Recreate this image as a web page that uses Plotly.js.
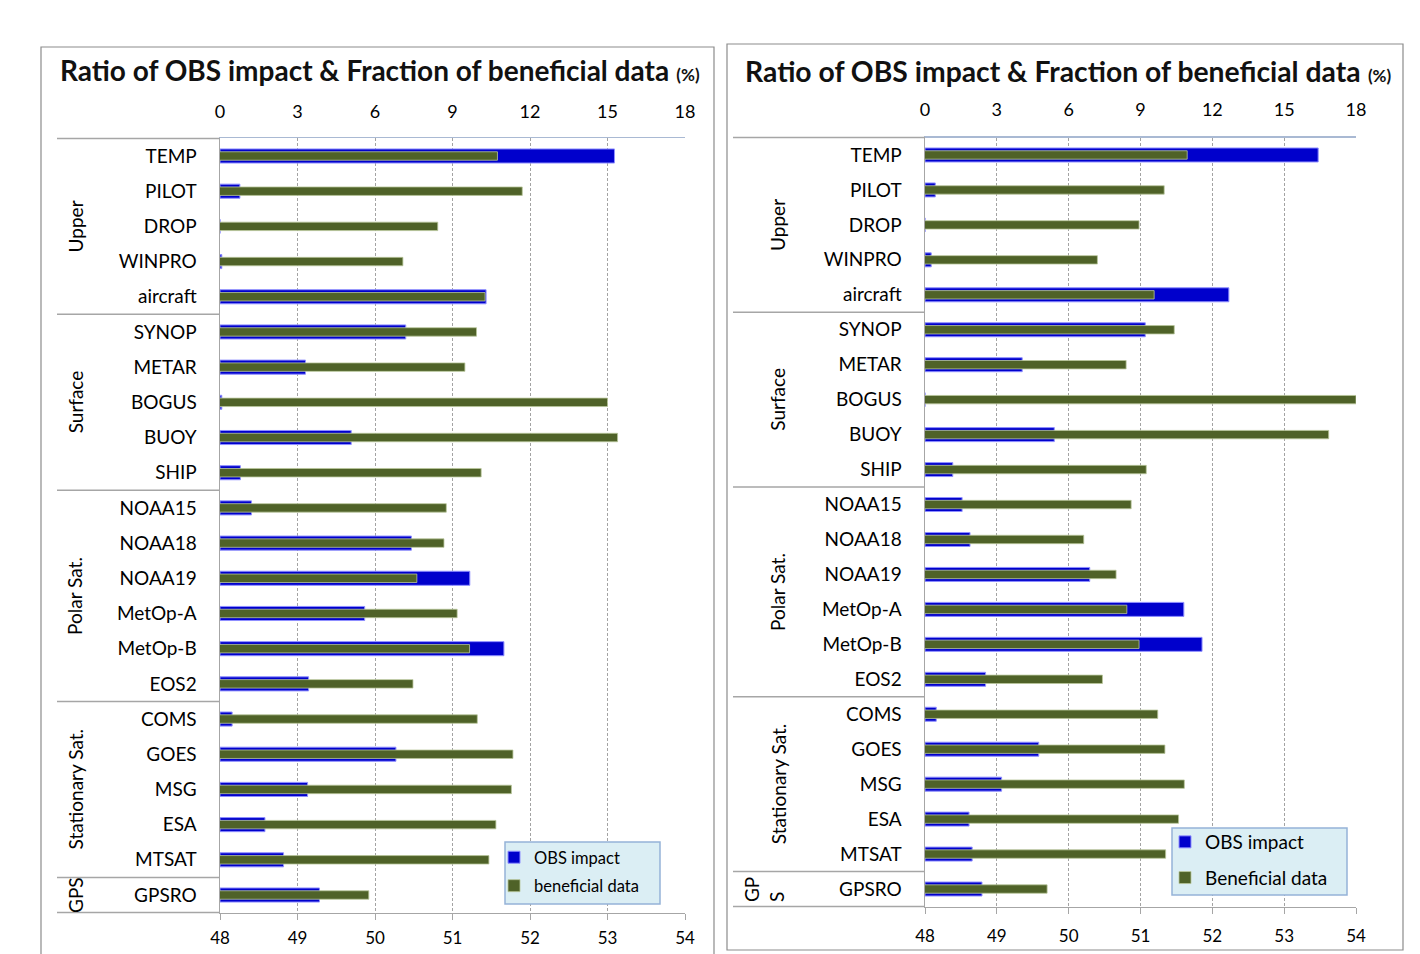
<!DOCTYPE html>
<html>
<head>
<meta charset="utf-8">
<script src="https://cdn.plot.ly/plotly-3.0.1.min.js"></script>
<style>html,body{margin:0;padding:0;background:#fff;}#chart{width:1420px;height:954px;}</style>
</head>
<body>
<div id="chart"></div>
<script>
const categories = ['TEMP','PILOT','DROP','WINPRO','aircraft','SYNOP','METAR','BOGUS','BUOY','SHIP','NOAA15','NOAA18','NOAA19','MetOp-A','MetOp-B','EOS2','COMS','GOES','MSG','ESA','MTSAT','GPSRO'];
const groupNames = ['Upper','Surface','Polar Sat.','Stationary Sat.','GPS'];
const groupSizes = [5,5,6,5,1];

const leftObsImpact = [15.27,0.77,0,0.07,10.30,7.19,3.31,0.07,5.08,0.79,1.22,7.41,9.67,5.60,10.99,3.43,0.47,6.81,3.39,1.74,2.46,3.85];
const leftBeneficial = [51.58,51.90,50.81,50.36,51.42,51.31,51.16,53.00,53.13,51.37,50.92,50.89,50.54,51.06,51.22,50.49,51.32,51.78,51.76,51.56,51.47,49.92];
const rightObsImpact = [16.42,0.43,0,0.26,12.69,9.20,4.06,0,5.40,1.16,1.55,1.88,6.88,10.81,11.57,2.53,0.47,4.75,3.20,1.84,1.97,2.38];
const rightBeneficial = [51.65,51.33,50.98,50.40,51.19,51.47,50.80,54.0,53.62,51.08,50.87,50.21,50.66,50.81,50.98,50.47,51.24,51.34,51.61,51.53,51.35,49.70];

const topTicks = [0,3,6,9,12,15,18];
const bottomTicks = [48,49,50,51,52,53,54];

const W = 1420, H = 954;
const px = v => v / W;
const py = v => 1 - v / H;
const FONT = 'Lato, "Open Sans", sans-serif';
const BLUE = '#0000CC', GREEN = '#4F6228';

const panels = [
  {xa:'x', xb:'x2', ya:'y', obs:leftObsImpact, ben:leftBeneficial, benName:'beneficial data', legend:'legend',
   L:220, R:685, T:138.4, B:912.6, lineL:57, box:[41,47,714,970], titleX:58, titleY:70, groupX:75, titleSize:28,
   legBox:[505,842,660,904], legendX:494, legendY:840, legendFont:16.5, legendGap:4,
   topStand:12, botStand:3, gpsBreak:false},
  {xa:'x3', xb:'x4', ya:'y2', obs:rightObsImpact, ben:rightBeneficial, benName:'Beneficial data', legend:'legend2',
   L:925, R:1356, T:137.5, B:906.5, lineL:733, box:[727,44,1403,950], titleX:743, titleY:71, groupX:778, titleSize:28.3,
   legBox:[1172,828,1347,895], legendX:1165, legendY:823, legendFont:19, legendGap:8,
   topStand:13, botStand:8, gpsBreak:true}
];

let data = [];
panels.forEach((p, i) => {
  data.push({type:'bar', orientation:'h', y:categories, x:p.obs, xaxis:p.xa, yaxis:p.ya, width:0.40,
    name:'OBS impact', legend:p.legend, legendgroup:'obs' + i,
    marker:{color:BLUE, line:{color:'#8f8fff', width:1}}});
  data.push({type:'bar', orientation:'h', y:categories, x:p.ben, xaxis:p.xb, yaxis:p.ya, width:0.24,
    name:p.benName, legend:p.legend, legendgroup:'ben' + i,
    marker:{color:GREEN, line:{color:'#b9c79a', width:0.8}}});
});

const layout = {
  width:W, height:H, margin:{l:0,r:0,t:0,b:0},
  paper_bgcolor:'#fff', plot_bgcolor:'rgba(0,0,0,0)',
  barmode:'overlay', showlegend:true,
  font:{family:FONT, color:'#000'},
  shapes:[], annotations:[]
};

panels.forEach((p, i) => {
  const xs = i === 0 ? ['xaxis','xaxis2'] : ['xaxis3','xaxis4'];
  const ys = i === 0 ? 'yaxis' : 'yaxis2';
  const dom = [px(p.L), px(p.R)];
  layout[xs[0]] = {
    domain:dom, anchor:p.ya, side:'top', range:[0,18], tickvals:topTicks, ticktext:topTicks.map(String),
    showgrid:false, zeroline:false, showline:true, linecolor:'#a9b9d3', linewidth:1.5,
    ticks:'outside', ticklen:0, ticklabelstandoff:p.topStand,
    tickfont:{size:18, family:FONT, color:'#000'}, fixedrange:true
  };
  layout[xs[1]] = {
    domain:dom, anchor:p.ya, overlaying:p.xa, side:'bottom', range:[48,54], tickvals:bottomTicks,
    showgrid:true, gridcolor:'#a3a3a3', griddash:'3px,2px', gridwidth:1,
    zeroline:false, showline:true, linecolor:'#a6a6a6', linewidth:1.5,
    ticks:'outside', ticklen:6, tickcolor:'#a6a6a6', ticklabelstandoff:p.botStand,
    tickfont:{size:17, family:FONT, color:'#000'}, fixedrange:true
  };
  layout[ys] = {
    domain:[py(p.B), py(p.T)], anchor:p.xa, type:'category', categoryarray:categories, categoryorder:'array',
    range:[categories.length - 0.5, -0.5], showgrid:false, zeroline:false,
    showline:true, linecolor:'#a6a6a6', linewidth:1.5, ticks:'', ticklabelstandoff:18,
    tickfont:{size:19, family:FONT, color:'#000'}, fixedrange:true
  };
  layout[p.legend] = {
    x:px(p.legendX), y:py(p.legendY), xanchor:'left', yanchor:'top',
    bgcolor:'rgba(0,0,0,0)', borderwidth:0,
    font:{size:p.legendFont, family:FONT, color:'#000'}, traceorder:'grouped',
    itemwidth:30, tracegroupgap:p.legendGap
  };
  // legend box
  layout.shapes.push({type:'rect', xref:'paper', yref:'paper', layer:'above',
    x0:px(p.legBox[0]), x1:px(p.legBox[2]), y0:py(p.legBox[3]), y1:py(p.legBox[1]),
    line:{color:'#95b3d7', width:1.5}, fillcolor:'#dbeef4'});

  // panel frame
  layout.shapes.push({type:'rect', xref:'paper', yref:'paper', x0:px(p.box[0]), x1:px(p.box[2]), y0:py(p.box[3]), y1:py(p.box[1]),
    line:{color:'#8c8c8c', width:1.2}, fillcolor:'rgba(0,0,0,0)', layer:'below'});
  // top and bottom lines over label column
  layout.shapes.push({type:'line', xref:'paper', yref:'paper', x0:px(p.lineL), x1:px(p.L), y0:py(p.T), y1:py(p.T),
    line:{color:'#a6a6a6', width:1.5}});
  layout.shapes.push({type:'line', xref:'paper', yref:'paper', x0:px(p.lineL), x1:px(p.L), y0:py(p.B), y1:py(p.B),
    line:{color:'#a6a6a6', width:1.5}});
  // group separators and labels
  let start = 0;
  groupSizes.forEach((n, g) => {
    const end = start + n;
    if (end < categories.length) {
      layout.shapes.push({type:'line', xref:'paper', yref:p.ya, x0:px(p.lineL), x1:px(p.L), y0:end - 0.5, y1:end - 0.5,
        line:{color:'#a6a6a6', width:1.5}});
    }
    const center = (start + end - 1) / 2;
    let txt = groupNames[g];
    let gx = p.groupX, al = 'center';
    if (txt === 'GPS' && p.gpsBreak) { txt = 'GP<br>S'; gx = p.groupX - 14; al = 'left'; }
    layout.annotations.push({xref:'paper', yref:p.ya, x:px(gx), y:center, text:txt, showarrow:false,
      textangle:-90, align:al, xanchor:'center', yanchor:'middle', font:{size:19, family:FONT, color:'#000'}});
    start = end;
  });
  // title
  layout.annotations.push({xref:'paper', yref:'paper', x:px(p.titleX), y:py(p.titleY), xanchor:'left', yanchor:'middle',
    showarrow:false, text:'<b>Ratio of OBS impact &amp; Fraction of beneficial data</b> <span style="font-size:17px"><b>(%)</b></span>',
    font:{size:p.titleSize, family:FONT, color:'#111'}});
});

Plotly.newPlot('chart', data, layout, {staticPlot:true, displayModeBar:false});
</script>
</body>
</html>
